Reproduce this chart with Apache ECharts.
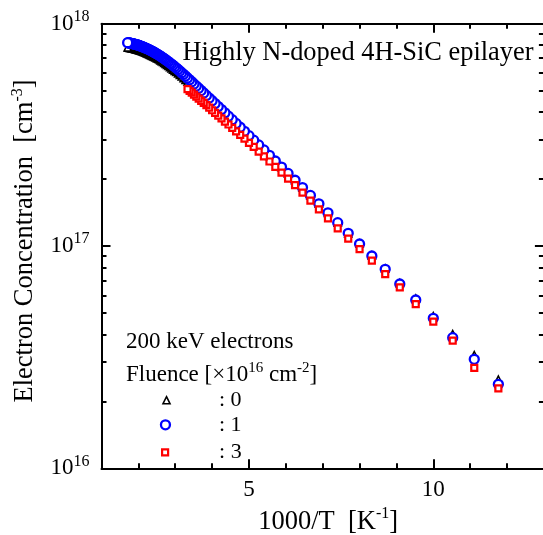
<!DOCTYPE html>
<html>
<head>
<meta charset="utf-8">
<script src="https://cdn.jsdelivr.net/npm/echarts@6/dist/echarts.min.js"></script>
<style>
  html, body { margin: 0; padding: 0; background: #fff; }
  #chart { width: 543px; height: 535px; }
</style>
</head>
<body>
<div id="chart"></div>
<script>
const SERIF = '"Liberation Serif", "Times New Roman", Times, serif';

// Measurement temperatures [K] (unirradiated and 1e16 cm^-2 samples)
const tempsAll = [
  85, 90, 95, 100, 105, 110, 115, 120, 125, 130, 135, 140, 145, 150, 155, 160, 165, 170, 175, 180,
  185, 190, 195, 200, 205, 210, 215, 220, 225, 230, 235, 240, 245, 250, 255, 260, 265, 270, 275, 280,
  285, 290, 295, 300, 305, 310, 315, 320, 325, 330, 335, 340, 345, 350, 355, 360, 365, 370, 375, 380,
  385, 390, 395, 400, 405, 410, 415, 420, 425, 430, 435, 440, 445, 450, 455, 460, 465, 470, 475, 480,
  485, 490, 495, 500, 505, 510, 515, 520, 525, 530, 535, 540, 545, 550, 555, 560, 565, 570, 575, 580, 585
];

// Measurement temperatures [K] (3e16 cm^-2 sample)
const tempsFluence3 = [
  85, 90, 95, 100, 105, 110, 115, 120, 125, 130, 135, 140, 145, 150, 155, 160, 165, 170, 175, 180,
  185, 190, 195, 200, 205, 210, 215, 220, 225, 230, 235, 240, 245, 250, 255, 260, 265, 270, 275, 280,
  285, 290, 295, 300
];

// Electron concentration [cm^-3], fluence 0
const nFluence0 = [
  2.509e16, 3.234e16, 4.019e16, 4.842e16, 5.807e16, 6.812e16, 7.919e16, 9.070e16, 1.026e17, 1.140e17,
  1.273e17, 1.410e17, 1.548e17, 1.689e17, 1.832e17, 1.976e17, 2.117e17, 2.261e17, 2.407e17, 2.543e17,
  2.688e17, 2.832e17, 2.976e17, 3.102e17, 3.243e17, 3.366e17, 3.504e17, 3.641e17, 3.777e17, 3.887e17,
  4.018e17, 4.147e17, 4.276e17, 4.376e17, 4.499e17, 4.622e17, 4.743e17, 4.863e17, 4.955e17, 5.070e17,
  5.183e17, 5.295e17, 5.406e17, 5.481e17, 5.586e17, 5.689e17, 5.789e17, 5.885e17, 5.979e17, 6.071e17,
  6.132e17, 6.216e17, 6.297e17, 6.376e17, 6.449e17, 6.521e17, 6.591e17, 6.656e17, 6.721e17, 6.781e17,
  6.841e17, 6.898e17, 6.952e17, 6.995e17, 7.043e17, 7.087e17, 7.126e17, 7.163e17, 7.199e17, 7.238e17,
  7.274e17, 7.310e17, 7.343e17, 7.375e17, 7.406e17, 7.437e17, 7.464e17, 7.491e17, 7.514e17, 7.539e17,
  7.561e17, 7.584e17, 7.603e17, 7.614e17, 7.634e17, 7.651e17, 7.667e17, 7.684e17, 7.697e17, 7.711e17,
  7.724e17, 7.737e17, 7.749e17, 7.760e17, 7.770e17, 7.780e17, 7.788e17, 7.797e17, 7.804e17, 7.811e17, 7.818e17
];

// Electron concentration [cm^-3], fluence 1e16 cm^-2
const nFluence1 = [
  2.387e16, 3.092e16, 3.868e16, 4.729e16, 5.716e16, 6.745e16, 7.856e16, 9.016e16, 1.021e17, 1.140e17,
  1.273e17, 1.410e17, 1.548e17, 1.689e17, 1.832e17, 1.976e17, 2.121e17, 2.266e17, 2.412e17, 2.558e17,
  2.704e17, 2.849e17, 2.994e17, 3.137e17, 3.279e17, 3.421e17, 3.561e17, 3.700e17, 3.838e17, 3.974e17,
  4.108e17, 4.240e17, 4.372e17, 4.502e17, 4.629e17, 4.755e17, 4.880e17, 5.003e17, 5.124e17, 5.243e17,
  5.360e17, 5.476e17, 5.591e17, 5.703e17, 5.813e17, 5.920e17, 6.024e17, 6.124e17, 6.222e17, 6.317e17,
  6.408e17, 6.495e17, 6.580e17, 6.662e17, 6.739e17, 6.814e17, 6.887e17, 6.955e17, 7.023e17, 7.086e17,
  7.148e17, 7.208e17, 7.264e17, 7.318e17, 7.371e17, 7.420e17, 7.466e17, 7.511e17, 7.554e17, 7.595e17,
  7.633e17, 7.670e17, 7.705e17, 7.739e17, 7.771e17, 7.804e17, 7.832e17, 7.860e17, 7.885e17, 7.911e17,
  7.934e17, 7.958e17, 7.978e17, 7.998e17, 8.019e17, 8.037e17, 8.054e17, 8.071e17, 8.085e17, 8.100e17,
  8.113e17, 8.127e17, 8.140e17, 8.151e17, 8.162e17, 8.172e17, 8.181e17, 8.190e17, 8.198e17, 8.205e17, 8.212e17
];

// Electron concentration [cm^-3], fluence 3e16 cm^-2
const nFluence3 = [
  2.29e16, 2.83e16, 3.75e16, 4.57e16, 5.48e16, 6.52e16, 7.48e16, 8.59e16, 9.69e16, 1.08e17,
  1.20e17, 1.33e17, 1.46e17, 1.60e17, 1.74e17, 1.88e17, 2.01e17, 2.14e17, 2.27e17, 2.40e17,
  2.53e17, 2.66e17, 2.79e17, 2.91e17, 3.04e17, 3.16e17, 3.28e17, 3.40e17, 3.52e17, 3.63e17,
  3.75e17, 3.86e17, 3.97e17, 4.08e17, 4.19e17, 4.30e17, 4.40e17, 4.50e17, 4.60e17, 4.70e17,
  4.80e17, 4.90e17, 4.99e17, 5.08e17
];

const fluenceNames = ['0', '1', '3'];
const xLabelValues = [5, 10];
const xMinorValues = [1, 2, 3, 4, 5, 6, 7, 8, 9, 10, 11, 12, 13];
const yMinorValues = [
  2e16, 3e16, 4e16, 5e16, 6e16, 7e16, 8e16, 9e16,
  2e17, 3e17, 4e17, 5e17, 6e17, 7e17, 8e17, 9e17
];

// 1000/T on x, concentration on y
function toPoints(temps, values) {
  return temps.map((t, i) => [1000 / t, values[i]]);
}

const chart = echarts.init(document.getElementById('chart'), null, { renderer: 'canvas' });

const black = '#000000';
const blue = '#0000ff';
const red = '#ff0000';

const nameRich = {
  n: { fontFamily: SERIF, fontSize: 26.5, color: black, lineHeight: 32 },
  s: { fontFamily: SERIF, fontSize: 16, color: black, lineHeight: 14, verticalAlign: 'top' }
};
const tickRich = {
  n: { fontFamily: SERIF, fontSize: 23, color: black, lineHeight: 30 },
  s: { fontFamily: SERIF, fontSize: 16, color: black, lineHeight: 14, verticalAlign: 'top' }
};
const noteRich = {
  n: { fontFamily: SERIF, fontSize: 23, color: black, lineHeight: 28 },
  s: { fontFamily: SERIF, fontSize: 15, color: black, lineHeight: 12, verticalAlign: 'top' }
};

function frameX(position, ticks, length, withLine, labels) {
  return {
    type: 'value', gridIndex: 0, position: position, min: 1, max: 13,
    axisLine: { show: withLine, onZero: false, lineStyle: { color: black, width: 2 } },
    axisTick: { show: true, inside: true, length: length, customValues: ticks,
                lineStyle: { color: black, width: 2 } },
    axisLabel: labels ? { show: true, customValues: xLabelValues, margin: 10, color: black,
                          fontFamily: SERIF, fontSize: 23 } : { show: false },
    splitLine: { show: false }
  };
}

function frameY(position, ticks, length, withLine, labels) {
  const ax = {
    type: 'log', logBase: 10, gridIndex: 0, position: position, min: 1e16, max: 1e18,
    axisLine: { show: withLine, onZero: false, lineStyle: { color: black, width: 2 } },
    axisTick: { show: true, inside: true, length: length, lineStyle: { color: black, width: 2 } },
    axisLabel: { show: false },
    splitLine: { show: false }
  };
  if (ticks) ax.axisTick.customValues = ticks;
  if (labels) {
    ax.axisLabel = {
      show: true, margin: 12,
      formatter: v => '{n|10}{s|' + Math.round(Math.log10(v)) + '}',
      rich: tickRich
    };
  }
  return ax;
}

const xMain = frameX('bottom', xMinorValues, 5, true, true);
xMain.name = '{n|1000/T  [K}{s|-1}{n|]}';
xMain.nameLocation = 'middle';
xMain.nameGap = 30;
xMain.nameTextStyle = { rich: nameRich, padding: [0, 0, 0, 11] };

const yMain = frameY('left', [1e16, 1e17, 1e18], 9, true, true);
yMain.name = '{n|Electron Concentration  [cm}{s|-3}{n|]}';
yMain.nameLocation = 'middle';
yMain.nameRotate = 90;
yMain.nameGap = 60;
yMain.nameTextStyle = { rich: nameRich, padding: [0, 0, 0, 10] };

function legendFor(name, left, top, size, borderWidth, textPad) {
  return {
    data: [name], left: left, top: top, padding: 0,
    itemWidth: size, itemHeight: size, selectedMode: false,
    itemStyle: { borderWidth: borderWidth },
    formatter: n => '{t|: ' + n + '}',
    textStyle: { rich: { t: { fontFamily: SERIF, fontSize: 22, color: black,
                              padding: [0, 0, 0, textPad] } } }
  };
}

const option = {
  animation: false,
  backgroundColor: '#ffffff',
  grid: { left: 101.5, top: 23.7, width: 442.4, height: 444.6,
          containLabel: false, outerBoundsMode: 'none' },
  xAxis: [
    xMain,
    frameX('bottom', xLabelValues, 9, false, false),
    frameX('top', xMinorValues, 5, true, false),
    frameX('top', xLabelValues, 9, false, false)
  ],
  yAxis: [
    yMain,
    frameY('left', yMinorValues, 5, false, false),
    frameY('right', [1e16, 1e17, 1e18], 9, false, false),
    frameY('right', yMinorValues, 5, false, false)
  ],
  legend: [
    legendFor(fluenceNames[0], 162.2, 389.2, 7, 1.6, 44),
    legendFor(fluenceNames[1], 159.8, 413.8, 9, 2.3, 44),
    legendFor(fluenceNames[2], 161, 441.3, 6, 2.2, 46)
  ],
  graphic: [
    { type: 'text', x: 533.5, y: 53, silent: true,
      style: { text: 'Highly N-doped 4H-SiC epilayer', fill: black,
               font: '26.4px ' + SERIF, align: 'right', verticalAlign: 'middle' } },
    { type: 'text', x: 126, y: 341.5, silent: true,
      style: { text: '200 keV electrons', fill: black,
               font: '23px ' + SERIF, align: 'left', verticalAlign: 'middle' } },
    { type: 'text', x: 126, y: 375, silent: true,
      style: { text: '{n|Fluence [\u00d710}{s|16}{n| cm}{s|-2}{n|]}', rich: noteRich,
               font: '23px ' + SERIF, align: 'left', verticalAlign: 'middle' } }
  ],
  series: [
    {
      name: fluenceNames[0], type: 'scatter', xAxisIndex: 0, yAxisIndex: 0,
      data: toPoints(tempsAll, nFluence0),
      symbol: 'triangle', symbolSize: 7, silent: true,
      itemStyle: { color: '#ffffff', borderColor: black, borderWidth: 1.6, opacity: 1 }
    },
    {
      name: fluenceNames[1], type: 'scatter', xAxisIndex: 0, yAxisIndex: 0,
      data: toPoints(tempsAll, nFluence1),
      symbol: 'circle', symbolSize: 9, silent: true,
      itemStyle: { color: '#ffffff', borderColor: blue, borderWidth: 2.3, opacity: 1 }
    },
    {
      name: fluenceNames[2], type: 'scatter', xAxisIndex: 0, yAxisIndex: 0,
      data: toPoints(tempsFluence3, nFluence3),
      symbol: 'rect', symbolSize: 6, silent: true,
      itemStyle: { color: '#ffffff', borderColor: red, borderWidth: 2.2, opacity: 1 }
    }
  ]
};

chart.setOption(option);
</script>
</body>
</html>
